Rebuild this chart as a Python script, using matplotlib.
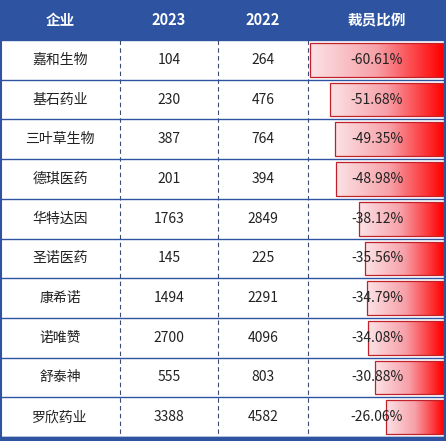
import numpy as np
import matplotlib
matplotlib.use('Agg')
import matplotlib.pyplot as plt
from matplotlib.colors import LinearSegmentedColormap

plt.rcParams['font.family'] = ['Noto Sans CJK SC', 'DejaVu Sans']

headers = ['企业', '2023', '2022', '裁员比例']
companies = ['嘉和生物', '基石药业', '三叶草生物', '德琪医药', '华特达因',
             '圣诺医药', '康希诺', '诺唯赞', '舒泰神', '罗欣药业']
staff_2023 = [104, 230, 387, 201, 1763, 145, 1494, 2700, 555, 3388]
staff_2022 = [264, 476, 764, 394, 2849, 225, 2291, 4096, 803, 4582]
cut_ratio = [-60.61, -51.68, -49.35, -48.98, -38.12, -35.56, -34.79, -34.08, -30.88, -26.06]

W, H = 446, 441
blue = '#2E54A1'
head_h = 40
row_h = (437 - head_h) / len(companies)
col_x = [0, 120, 218, 308, 446]
bar_right = 443
bar_scale = 133 / 60.61

fig = plt.figure(figsize=(W / 100, H / 100), dpi=100)
ax = fig.add_axes([0, 0, 1, 1])
ax.set_xlim(0, W)
ax.set_ylim(H, 0)
ax.axis('off')

# header
ax.add_patch(plt.Rectangle((0, 0), W, head_h, color=blue, zorder=1))
for i, h in enumerate(headers):
    cx = (col_x[i] + col_x[i + 1]) / 2
    ax.text(cx, head_h / 2, h, color='white', fontsize=10.5, fontweight='bold',
            ha='center', va='center', zorder=3)

cmap = LinearSegmentedColormap.from_list('pinkred', ['#FBE3E6', '#F7A0A8', '#FF0000'])
grad = np.linspace(0, 1, 256).reshape(1, -1)

for r, (name, a, b, p) in enumerate(zip(companies, staff_2023, staff_2022, cut_ratio)):
    y0 = head_h + r * row_h
    yc = y0 + row_h / 2
    # bar from data
    length = abs(p) * bar_scale
    bars = ax.barh(yc, length, left=bar_right - length, height=row_h - 6,
                   facecolor='none', edgecolor='#C0202A', linewidth=0.9, zorder=3)
    rect = bars[0]
    im = ax.imshow(grad, cmap=cmap, aspect='auto', zorder=2,
                   extent=(rect.get_x(), rect.get_x() + rect.get_width(),
                           rect.get_y() + rect.get_height(), rect.get_y()))
    im.set_clip_path(rect)
    vals = [name, str(a), str(b), f'{p:.2f}%']
    for i, v in enumerate(vals):
        cx = (col_x[i] + col_x[i + 1]) / 2
        ax.text(cx, yc, v, fontsize=10, color='#222222', ha='center', va='center', zorder=4)
    ax.plot([0, W], [y0 + row_h, y0 + row_h], color=blue, lw=1.0, zorder=5)

for x in col_x[1:4]:
    ax.plot([x, x], [head_h, 437], color='#3A4A70', lw=0.8, ls=(0, (4, 3)), zorder=1)
ax.plot([1, 1], [head_h, 437], color=blue, lw=1.5, zorder=5)
ax.plot([W - 1.5, W - 1.5], [0, 437], color=blue, lw=2.5, zorder=5)
ax.add_patch(plt.Rectangle((0, 437), W, 4, color=blue, zorder=5))

fig.savefig('out.png', dpi=100)
